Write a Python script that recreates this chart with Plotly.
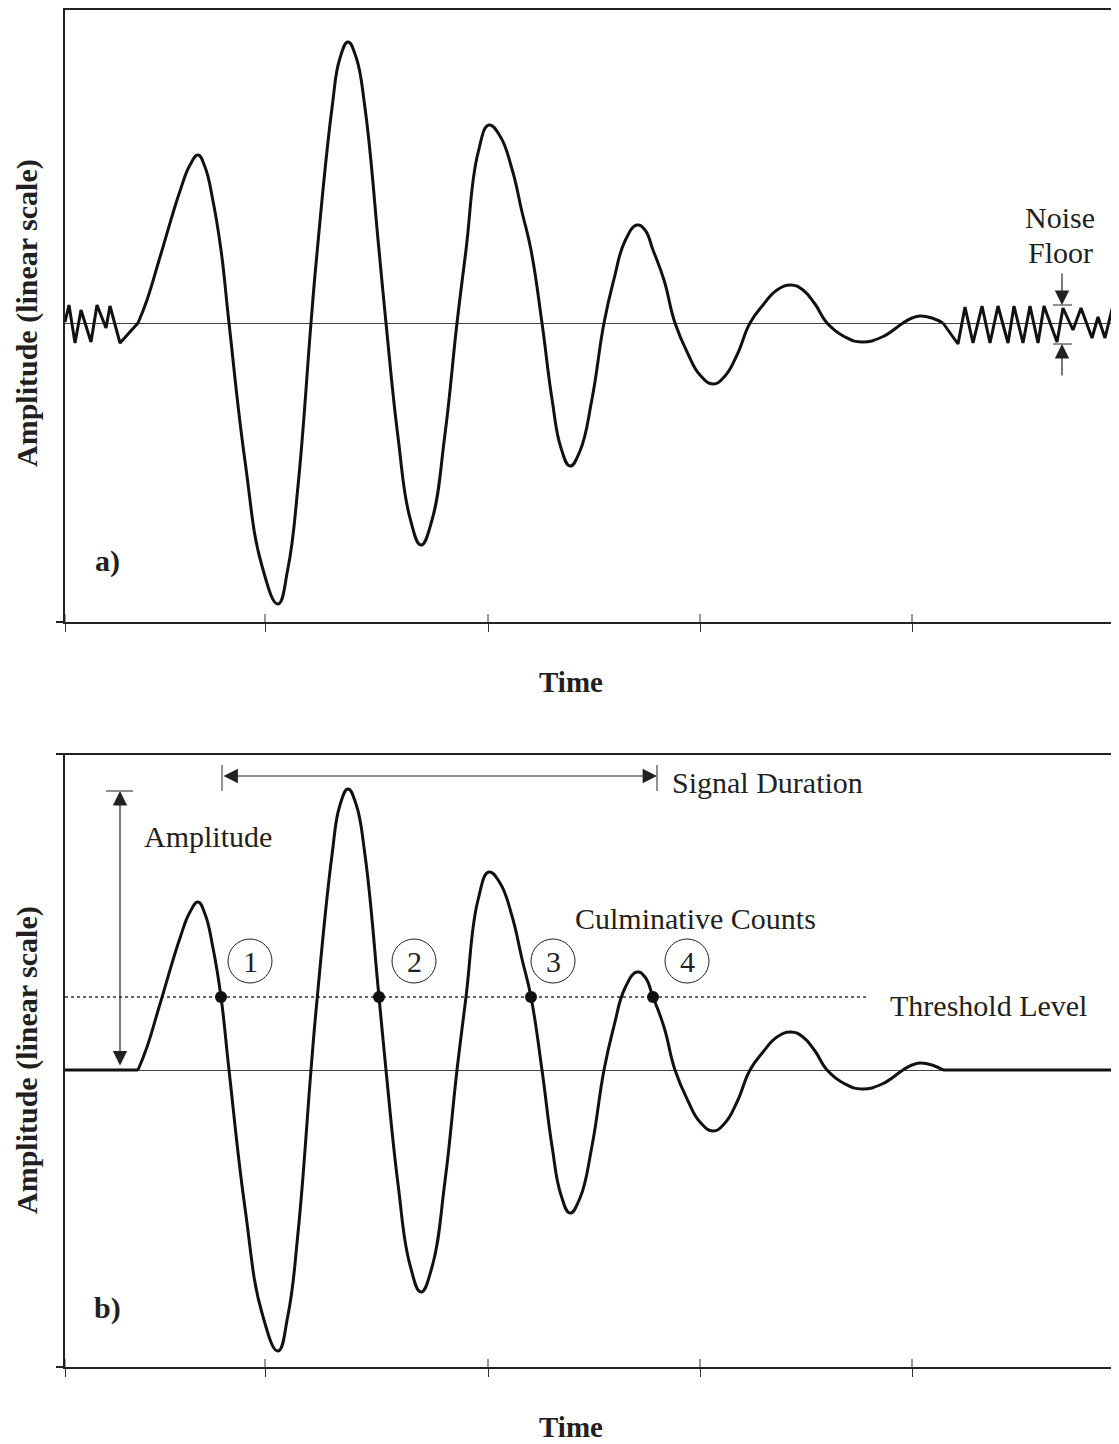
import plotly.graph_objects as go

# ---------------- data (time in arbitrary units, amplitude in arbitrary linear units) ----------------
# acoustic-emission burst (same waveform in both panels)
sig_t = [138, 147, 160, 180, 190, 198, 205, 213, 221, 229,
         245, 262, 278, 288, 298, 311,
         316, 332, 340, 348, 356, 365, 379, 386,
         398, 410, 421, 432, 445, 457,
         466, 478, 489, 500, 512, 522, 531, 542,
         552, 561, 570, 580, 592, 604,
         614, 625, 637, 645, 653, 664, 675,
         688, 700, 713, 725, 737, 750,
         763, 777, 791, 803, 815, 827,
         845, 862, 882, 903,
         912, 920, 932, 943]
sig_a = [0, 23, 66, 132, 158, 168, 156, 122, 73, 0,
         -138, -243, -281, -245, -163, 0,
         59, 215, 265, 281, 266, 215, 73, 0,
         -114, -195, -222, -197, -111, 0,
         73, 170, 198, 187, 154, 111, 73, 0,
         -76, -125, -143, -128, -76, 0,
         44, 82, 98, 93, 73, 43, 0,
         -31, -52, -61, -53, -32, 0,
         18, 33, 38, 33, 19, 0,
         -14, -19, -14, 0,
         5, 7, 5, 0]

# background noise (panel a)
noise_pre_t = [65, 69, 75, 81, 91, 97, 106, 110, 120, 138]
noise_pre_a = [1, 18, -20, 13, -19, 18, -5, 17, -20, 0]
noise_post_t = [943, 958, 965, 973, 982, 990, 998, 1008, 1014, 1023, 1030, 1038, 1044, 1057, 1063,
                1073, 1081, 1092, 1098, 1105, 1113, 1119]
noise_post_a = [0, -21, 16, -20, 17, -20, 17, -20, 17, -20, 17, -20, 17, -19, 15,
                -7, 15, -15, 6, -15, 18, 5]

# quiet baseline (panel b)
flat_pre_t = [65, 138]
flat_post_t = [943, 1119]

threshold_level = 73
threshold_t = [65, 866]
count_t = [221, 379, 531, 653]
count_labels = ["1", "2", "3", "4"]
count_label_t = [250, 414, 553, 687]

tick_t = [65, 265, 488, 700, 912]
X_RANGE = [65, 1119]
YA_RANGE = [-299, 315]
YB_RANGE = [-297, 316]

# ---------------- styling ----------------
FONT = "Liberation Serif, Times New Roman, serif"
TXT = "#231f20"
AX = "#222222"
LINE = "#111111"
SMOOTH = 1.3

fig = go.Figure()

# panel a
fig.add_trace(go.Scatter(x=noise_pre_t, y=noise_pre_a, mode="lines", line=dict(color=LINE, width=3),
                         xaxis="x", yaxis="y", hoverinfo="skip"))
fig.add_trace(go.Scatter(x=sig_t, y=sig_a, mode="lines", line=dict(color=LINE, width=3, shape="spline", smoothing=SMOOTH),
                         xaxis="x", yaxis="y", hoverinfo="skip"))
fig.add_trace(go.Scatter(x=noise_post_t, y=noise_post_a, mode="lines", line=dict(color=LINE, width=3),
                         xaxis="x", yaxis="y", hoverinfo="skip"))

# panel b
fig.add_trace(go.Scatter(x=threshold_t, y=[threshold_level] * 2, mode="lines",
                         line=dict(color="#333", width=1.3, dash="dot"), xaxis="x2", yaxis="y2", hoverinfo="skip"))
fig.add_trace(go.Scatter(x=flat_pre_t, y=[0, 0], mode="lines", line=dict(color=LINE, width=3),
                         xaxis="x2", yaxis="y2", hoverinfo="skip"))
fig.add_trace(go.Scatter(x=sig_t, y=sig_a, mode="lines", line=dict(color=LINE, width=3, shape="spline", smoothing=SMOOTH),
                         xaxis="x2", yaxis="y2", hoverinfo="skip"))
fig.add_trace(go.Scatter(x=flat_post_t, y=[0, 0], mode="lines", line=dict(color=LINE, width=3),
                         xaxis="x2", yaxis="y2", hoverinfo="skip"))
fig.add_trace(go.Scatter(x=count_t, y=[threshold_level] * len(count_t), mode="markers",
                         marker=dict(color=LINE, size=12), xaxis="x2", yaxis="y2", hoverinfo="skip"))

# the page adds an 8px body margin, so the figure is 8px smaller and the plot area is placed accordingly
PLOT_H = 1359
top_dom = [(1367 - 622) / PLOT_H, 1.0]
bot_dom = [0.0, (1367 - 754) / PLOT_H]

def xax(anchor):
    return dict(domain=[0, 1], range=X_RANGE, anchor=anchor, showline=True, linecolor=AX, linewidth=2,
                showgrid=False, zeroline=False, showticklabels=False, ticks="outside", ticklen=8,
                tickwidth=1, tickcolor="#333", tickmode="array", tickvals=tick_t, fixedrange=True)

def yax(anchor, dom, rng):
    return dict(domain=dom, range=rng, anchor=anchor, showline=True, linecolor=AX, linewidth=2,
                showgrid=False, zeroline=True, zerolinecolor="#444", zerolinewidth=1.2,
                showticklabels=False, ticks="", fixedrange=True)

fig.update_layout(
    width=1111, height=1436, margin=dict(l=57, r=0, t=0, b=77),
    plot_bgcolor="white", paper_bgcolor="white", showlegend=False,
    xaxis=xax("y"), yaxis=yax("x", top_dom, YA_RANGE),
    xaxis2=xax("y2"), yaxis2=yax("x2", bot_dom, YB_RANGE),
    font=dict(family=FONT, color=TXT, size=30),
)

shapes = []
# inner half of the crossing ticks
for t in tick_t:
    shapes.append(dict(type="line", xref="x", yref="y", x0=t, x1=t, y0=YA_RANGE[0], y1=YA_RANGE[0] + 8,
                       line=dict(color="#333", width=1)))
    shapes.append(dict(type="line", xref="x2", yref="y2", x0=t, x1=t, y0=YB_RANGE[0], y1=YB_RANGE[0] + 8,
                       line=dict(color="#333", width=1)))
# frame pieces: top borders and left extensions of the time axes
ext = -9 / 1054
shapes += [
    dict(type="line", xref="paper", yref="paper", x0=-0.001, x1=1, y0=1 - 1 / PLOT_H, y1=1 - 1 / PLOT_H,
         line=dict(color=AX, width=2)),
    dict(type="line", xref="paper", yref="paper", x0=ext, x1=1, y0=bot_dom[1], y1=bot_dom[1], line=dict(color=AX, width=2)),
    dict(type="line", xref="paper", yref="paper", x0=ext, x1=0, y0=top_dom[0], y1=top_dom[0], line=dict(color=AX, width=2)),
    dict(type="line", xref="paper", yref="paper", x0=ext, x1=0, y0=0, y1=0, line=dict(color=AX, width=2)),
]

def top(yp):
    return 323 - yp

def bot(yp):
    return 1070 - yp

# noise floor bars (panel a)
for yb in (top(305), top(344)):
    shapes.append(dict(type="line", xref="x", yref="y", x0=1053, x1=1072, y0=yb, y1=yb, line=dict(color="#222", width=1)))
# amplitude bar, signal-duration bars (panel b)
shapes.append(dict(type="line", xref="x2", yref="y2", x0=106, x1=133, y0=bot(791), y1=bot(791), line=dict(color="#222", width=1)))
for xb in (222, 657):
    shapes.append(dict(type="line", xref="x2", yref="y2", x0=xb, x1=xb, y0=bot(791), y1=bot(765), line=dict(color="#222", width=1)))
# count circles
R = 22
for cx in count_label_t:
    shapes.append(dict(type="circle", xref="x2", yref="y2", x0=cx - R, x1=cx + R, y0=bot(961) - R, y1=bot(961) + R,
                       line=dict(color="#222", width=1)))
fig.update_layout(shapes=shapes)

ann = []

def text(s, x, y, xr, yr, xanchor="center", bold=False, size=30, angle=0):
    ann.append(dict(text=f"<b>{s}</b>" if bold else s, x=x, y=y, xref=xr, yref=yr, showarrow=False,
                    xanchor=xanchor, yanchor="middle", textangle=angle,
                    font=dict(family=FONT, size=size, color=TXT)))

def arrow(x, y, ax, ay, xr, yr, both=False):
    d = dict(text="", x=x, y=y, ax=ax, ay=ay, xref=xr, yref=yr, axref=xr, ayref=yr, showarrow=True,
             arrowhead=2, arrowsize=2.4, arrowwidth=1.2, arrowcolor="#222", standoff=0, startstandoff=0)
    if both:
        d.update(arrowside="end+start", startarrowhead=2, startarrowsize=2.4)
    ann.append(d)

def px(xp):
    return (xp - 65) / 1054

def py(yp):
    return (1367 - yp) / PLOT_H

# axis titles
text("Amplitude (linear scale)", px(27), py(313), "paper", "paper", bold=True, angle=-90)
text("Amplitude (linear scale)", px(27), py(1060), "paper", "paper", bold=True, angle=-90)
text("Time", px(571), py(682), "paper", "paper", bold=True, size=29)
text("Time", px(571), py(1427), "paper", "paper", bold=True, size=29)

# panel a
text("a)", 107, top(561), "x", "y", bold=True)
text("Noise", 1060, top(217), "x", "y")
text("Floor", 1060, top(252), "x", "y")
arrow(1062, top(305), 1062, top(272), "x", "y")
arrow(1062, top(344), 1062, top(377), "x", "y")

# panel b
text("b)", 107, bot(1308), "x2", "y2", bold=True)
text("Amplitude", 142, bot(836), "x2", "y2", xanchor="left")
text("Signal Duration", 670, bot(782), "x2", "y2", xanchor="left")
text("Culminative Counts", 818, bot(918), "x2", "y2", xanchor="right")
text("Threshold Level", 888, bot(1005), "x2", "y2", xanchor="left")
for cx, lab in zip(count_label_t, count_labels):
    text(lab, cx, bot(961), "x2", "y2")
arrow(120, bot(791), 120, bot(1067), "x2", "y2", both=True)
arrow(657, bot(776), 222, bot(776), "x2", "y2", both=True)

fig.update_layout(annotations=ann)

fig.write_html("out.html")
